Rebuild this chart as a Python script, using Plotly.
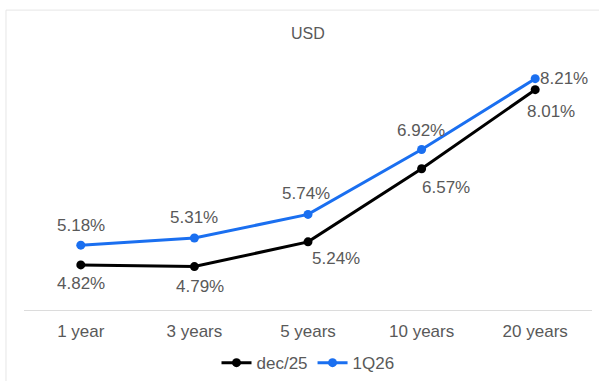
import plotly.graph_objects as go

# Yield curve by tenor
tenors = ["1 year", "3 years", "5 years", "10 years", "20 years"]
dec25 = [4.82, 4.79, 5.24, 6.57, 8.01]
q126 = [5.18, 5.31, 5.74, 6.92, 8.21]

# label placement tweaks (pixels) for each point
dec25_shift = [(0, -19), (6, -20), (28, -17), (24, -19), (16, -22)]
q126_shift = [(0, 20), (0, 21), (-2, 21), (-1, 19), (29, 0)]

BLACK = "#000000"
BLUE = "#1a6ff0"
TEXT = "#595959"
FONT = "Liberation Sans, Arial, sans-serif"

fig = go.Figure()
fig.add_trace(go.Scatter(
    x=tenors, y=dec25, name="dec/25", mode="lines+markers",
    line=dict(color=BLACK, width=3), marker=dict(size=9, color=BLACK),
))
fig.add_trace(go.Scatter(
    x=tenors, y=q126, name="1Q26", mode="lines+markers",
    line=dict(color=BLUE, width=3), marker=dict(size=9, color=BLUE),
))

annotations = []
for series, shifts in ((dec25, dec25_shift), (q126, q126_shift)):
    for t, v, (dx, dy) in zip(tenors, series, shifts):
        annotations.append(dict(
            x=t, y=v, xref="x", yref="y", text=f"{v:.2f}%", showarrow=False,
            xshift=dx, yshift=dy, font=dict(size=17, color=TEXT, family=FONT),
        ))
annotations.append(dict(
    x=0.5, y=1.0, xref="paper", yref="paper", yshift=16, text="USD",
    showarrow=False, xanchor="center", yanchor="middle",
    font=dict(size=16, color=TEXT, family=FONT),
))

fig.update_layout(
    width=599, height=381,
    margin=dict(l=24, r=7, t=49, b=71, autoexpand=False),
    paper_bgcolor="white", plot_bgcolor="white",
    font=dict(family=FONT, size=17, color=TEXT),
    showlegend=True,
    legend=dict(orientation="h", x=0.5, xanchor="center",
                yref="container", y=0.047, yanchor="middle",
                font=dict(size=17, color=TEXT), itemwidth=30, tracegroupgap=0),
    annotations=annotations,
    shapes=[dict(type="rect", xref="paper", yref="paper",
                 x0=-0.0317, x1=1.5, y0=-1.0, y1=1.149,
                 line=dict(color="#e6e6e6", width=1), layer="below")],
)
fig.update_xaxes(range=[-0.5, 4.5], showgrid=False, showline=True, linecolor="#dcdcdc",
                 linewidth=1, ticks="", ticklabelstandoff=6, automargin=False,
                 tickfont=dict(size=17, color=TEXT), zeroline=False)
fig.update_yaxes(range=[4, 8.75], visible=False, showgrid=False, zeroline=False)

fig.write_html("out.html")
